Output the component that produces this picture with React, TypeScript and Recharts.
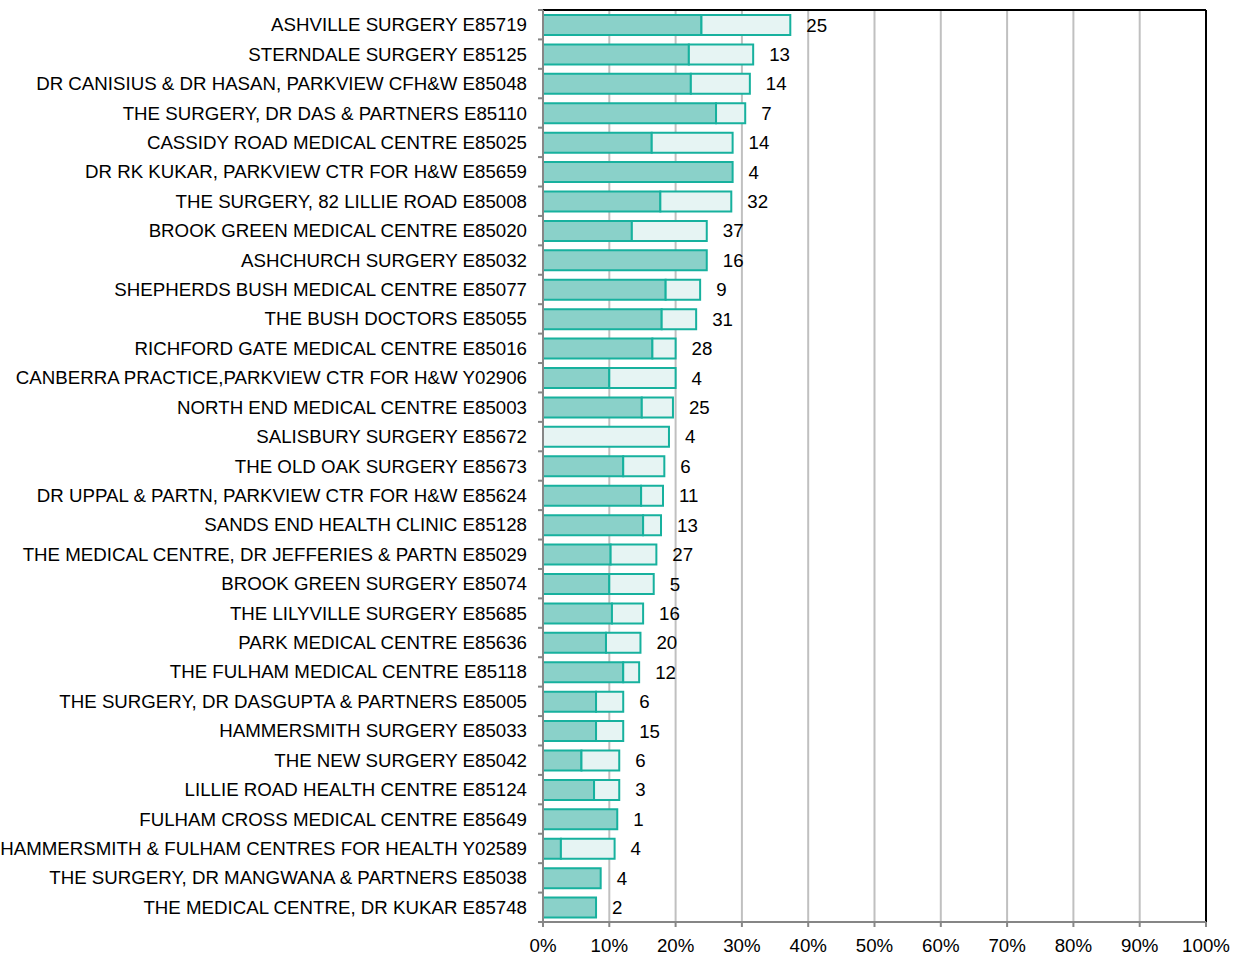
import { BarChart, Bar, XAxis, YAxis, CartesianGrid, ReferenceLine, LabelList } from "recharts";

const practices = [
  "ASHVILLE SURGERY E85719",
  "STERNDALE SURGERY E85125",
  "DR CANISIUS & DR HASAN, PARKVIEW CFH&W E85048",
  "THE SURGERY, DR DAS & PARTNERS E85110",
  "CASSIDY ROAD MEDICAL CENTRE E85025",
  "DR RK KUKAR, PARKVIEW CTR FOR H&W E85659",
  "THE SURGERY, 82 LILLIE ROAD E85008",
  "BROOK GREEN MEDICAL CENTRE E85020",
  "ASHCHURCH SURGERY E85032",
  "SHEPHERDS BUSH MEDICAL CENTRE E85077",
  "THE BUSH DOCTORS E85055",
  "RICHFORD GATE MEDICAL CENTRE E85016",
  "CANBERRA PRACTICE,PARKVIEW CTR FOR H&W Y02906",
  "NORTH END MEDICAL CENTRE E85003",
  "SALISBURY SURGERY E85672",
  "THE OLD OAK SURGERY E85673",
  "DR UPPAL & PARTN, PARKVIEW CTR FOR H&W E85624",
  "SANDS END HEALTH CLINIC E85128",
  "THE MEDICAL CENTRE, DR JEFFERIES & PARTN E85029",
  "BROOK GREEN SURGERY E85074",
  "THE LILYVILLE SURGERY E85685",
  "PARK MEDICAL CENTRE E85636",
  "THE FULHAM MEDICAL CENTRE E85118",
  "THE SURGERY, DR DASGUPTA & PARTNERS E85005",
  "HAMMERSMITH SURGERY E85033",
  "THE NEW SURGERY E85042",
  "LILLIE ROAD HEALTH CENTRE E85124",
  "FULHAM CROSS MEDICAL CENTRE E85649",
  "HAMMERSMITH & FULHAM CENTRES FOR HEALTH Y02589",
  "THE SURGERY, DR MANGWANA & PARTNERS E85038",
  "THE MEDICAL CENTRE, DR KUKAR E85748",
];

// dark segment (%)
const achieved = [
  23.9, 22.0, 22.3, 26.1, 16.4, 28.6, 17.7, 13.4, 24.7, 18.5, 17.9, 16.5, 10.0, 14.9, 0,
  12.1, 14.8, 15.1, 10.2, 10.0, 10.4, 9.5, 12.1, 8.0, 8.0, 5.8, 7.7, 11.2, 2.7, 8.7, 8.0,
];

// total bar length (%)
const total = [
  37.3, 31.7, 31.2, 30.5, 28.6, 28.6, 28.4, 24.7, 24.7, 23.7, 23.1, 20.0, 20.0, 19.6, 19.0,
  18.3, 18.1, 17.8, 17.1, 16.7, 15.1, 14.7, 14.5, 12.1, 12.1, 11.5, 11.5, 11.2, 10.8, 8.7, 8.0,
];

const counts = [
  25, 13, 14, 7, 14, 4, 32, 37, 16, 9, 31, 28, 4, 25, 4, 6, 11, 13, 27, 5, 16, 20, 12, 6, 15, 6, 3, 1,
  4, 4, 2,
];

const xTicks = [0, 10, 20, 30, 40, 50, 60, 70, 80, 90, 100];

const data = practices.map((name, i) => ({
  name,
  achieved: achieved[i],
  rest: Math.max(0, +(total[i] - achieved[i]).toFixed(1)),
  total: total[i],
  n: counts[i],
}));

const FONT = "'Liberation Sans', Arial, sans-serif";
const FS = 18.7;
const PLOT_H = 912;
const BAND = PLOT_H / practices.length;

function CategoryTick(props: any) {
  const { x, y, payload, index } = props;
  const last = index === practices.length - 1;
  return (
    <g>
      <line x1={x - 5} x2={x} y1={y - BAND / 2} y2={y - BAND / 2} stroke="#868686" strokeWidth={2} />
      {last && <line x1={x - 5} x2={x} y1={y + BAND / 2} y2={y + BAND / 2} stroke="#868686" strokeWidth={2} />}
      <text x={x - 16} y={y} dy="0.35em" textAnchor="end" fontSize={FS} fontFamily={FONT} fill="#000">
        {payload.value}
      </text>
    </g>
  );
}

function CountLabel(props: any) {
  const { x, y, width, height, value } = props;
  return (
    <text x={x + width + 16} y={y + height / 2} dy="0.35em" fontSize={FS} fontFamily={FONT} fill="#000">
      {value}
    </text>
  );
}

export default function App() {
  return (
    <div style={{ position: "absolute", left: 0, top: 0, background: "#fff" }}>
      <BarChart
        width={1236}
        height={958}
        data={data}
        layout="vertical"
        margin={{ top: 9, right: 30, bottom: 6, left: 0 }}
        barSize={20}
      >
        <CartesianGrid horizontal={false} stroke="#c0c0c0" strokeWidth={2} />
        <XAxis
          type="number"
          domain={[0, 100]}
          ticks={xTicks}
          tickFormatter={(v) => `${v}%`}
          height={30}
          stroke="#868686"
          strokeWidth={2}
          tickSize={5}
          tickMargin={12}
          tick={{ fontSize: FS, fontFamily: FONT, fill: "#000" }}
        />
        <XAxis
          xAxisId="top"
          orientation="top"
          type="number"
          domain={[0, 100]}
          height={1}
          tick={false}
          tickLine={false}
          stroke="#000"
          strokeWidth={2}
        />
        <YAxis
          type="category"
          dataKey="name"
          width={543}
          interval={0}
          tickSize={0}
          tickMargin={0}
          tickLine={false}
          stroke="#868686"
          strokeWidth={2}
          tick={<CategoryTick />}
        />
        <YAxis yAxisId="lab" type="category" dataKey="name" hide />
        <ReferenceLine x={100} stroke="#000" strokeWidth={2} />
        <Bar dataKey="achieved" stackId="a" fill="#8ad1c9" stroke="#17b19e" strokeWidth={2} isAnimationActive={false} />
        <Bar dataKey="rest" stackId="a" fill="#e6f4f3" stroke="#17b19e" strokeWidth={2} isAnimationActive={false} />
        <Bar yAxisId="lab" dataKey="total" fill="none" stroke="none" isAnimationActive={false}>
          <LabelList dataKey="n" content={<CountLabel />} />
        </Bar>
      </BarChart>
    </div>
  );
}
